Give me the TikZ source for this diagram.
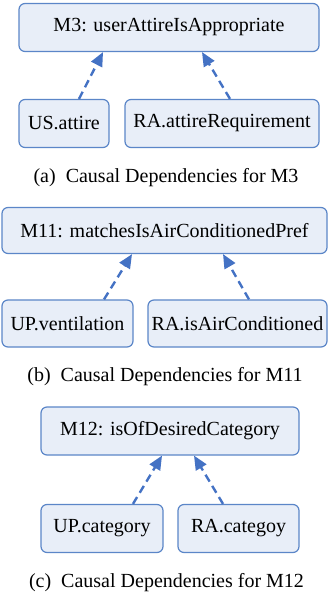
\documentclass[tikz,border=0pt]{standalone}
\usepackage{fontspec}
\setmainfont{Liberation Serif}
\usepackage{tikz}
\usetikzlibrary{positioning,calc,arrows.meta}
\definecolor{boxfill}{HTML}{E8EEF8}
\definecolor{boxline}{HTML}{5B86C8}
\definecolor{deparrow}{HTML}{4472C4}
\tikzset{
    metric/.style={draw=boxline, fill=boxfill, line width=0.6pt, rounded corners=3pt, minimum height=24pt, inner sep=0pt},
    attr/.style={metric},
    dep/.style={draw=deparrow, line width=1.2pt, dash pattern=on 4pt off 2.5pt, -{Triangle[length=7pt,width=6pt]}},
    caption/.style={inner sep=0pt}
}

\begin{document}
\begin{tikzpicture}[x=0.5pt, y=-0.5pt]
    \useasboundingbox (0,0) rectangle (329,597);
    % (a) M3
    \node [metric, minimum width=150pt] (m3) at (169,27.5) {M3: userAttireIsAppropriate};
    \node [attr, minimum width=45pt] (usattire) at (64,123.5) {US.attire};
    \node [attr, minimum width=97pt] (raattire) at (222,123.5) {RA.attireRequirement};
    \draw [dep] ($(usattire.north)+(15,0)$) -- ($(m3.south)+(-66,0)$);
    \draw [dep] ($(raattire.north)+(8,0)$) -- ($(m3.south)+(33,0)$);
    \node [caption] (capa) at (166,178) {(a)\enspace Causal Dependencies for M3};
    % (b) M11
    \node [metric, minimum width=162.5pt, minimum height=23pt] (m11) at (164.5,230.5) {M11: matchesIsAirConditionedPref};
    \node [attr, minimum width=65.5pt, minimum height=23.5pt] (upvent) at (67.5,323.5) {UP.ventilation};
    \node [attr, minimum width=89.5pt, minimum height=23.5pt] (raair) at (237.5,323.5) {RA.isAirConditioned};
    \draw [dep] ($(upvent.north)+(36.5,0)$) -- ($(m11.south)+(-32.5,0)$);
    \draw [dep] ($(raair.north)+(11.5,0)$) -- ($(m11.south)+(58.5,0)$);
    \node [caption] (capb) at (165,377) {(b)\enspace Causal Dependencies for M11};
    % (c) M12
    \node [metric, minimum width=129pt] (m12) at (170,431) {M12: isOfDesiredCategory};
    \node [attr, minimum width=61pt] (upcat) at (102,528.5) {UP.category};
    \node [attr, minimum width=60.5pt] (racat) at (238.5,528.5) {RA.categoy};
    \draw [dep] ($(upcat.north)+(31,0)$) -- ($(m12.south)+(-8,0)$);
    \draw [dep] ($(racat.north)+(-15.5,0)$) -- ($(m12.south)+(24,0)$);
    \node [caption] (capc) at (166.5,583) {(c)\enspace Causal Dependencies for M12};
\end{tikzpicture}
\end{document}
